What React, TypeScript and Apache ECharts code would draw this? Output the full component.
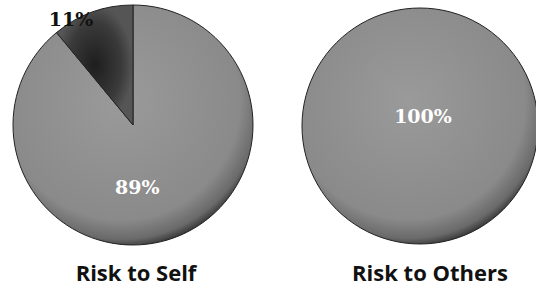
import React, { useEffect, useRef } from "react";
import * as echarts from "echarts";

const selfCategories = ["No", "Yes"];
const selfValues = [89, 11];
const othersCategories = ["No"];
const othersValues = [100];
const titles = ["Risk to Self", "Risk to Others"];

const greyFill = {
  type: "radial",
  x: 0.45,
  y: 0.4,
  r: 0.62,
  colorStops: [
    { offset: 0, color: "#9a9a9a" },
    { offset: 0.8, color: "#8a8a8a" },
    { offset: 0.93, color: "#6a6a6a" },
    { offset: 1, color: "#2e2e2e" },
  ],
};
const darkFill = {
  type: "radial",
  x: 0.5,
  y: 0.5,
  r: 0.5,
  colorStops: [
    { offset: 0, color: "#1e1e1e" },
    { offset: 0.7, color: "#3a3a3a" },
    { offset: 1, color: "#555555" },
  ],
};

export default function App() {
  const ref = useRef<HTMLDivElement>(null);
  useEffect(() => {
    if (!ref.current) return;
    const chart = echarts.init(ref.current, undefined, { renderer: "svg" });
    const labelFont = {
      fontFamily: "DejaVu Serif",
      fontWeight: "bold",
      fontSize: 19,
    };
    const titleStyle = {
      fontFamily: "Open Sans",
      fontWeight: "bold",
      fontSize: 22,
      lineHeight: 24,
      color: "#111",
    };
    chart.setOption({
      animation: false,
      backgroundColor: "#ffffff",
      title: [
        { text: titles[0], left: 136, top: 260, padding: 0, textAlign: "center", textStyle: titleStyle },
        { text: titles[1], left: 430, top: 260, padding: 0, textAlign: "center", textStyle: titleStyle },
      ],
      series: [
        {
          type: "pie",
          center: [133, 125],
          radius: 120,
          startAngle: 90,
          clockwise: true,
          avoidLabelOverlap: false,
          itemStyle: { borderColor: "#222", borderWidth: 1 },
          labelLine: { show: false, length: 0, length2: 0 },
          data: selfCategories.map((c, i) => ({
            name: c,
            value: selfValues[i],
            itemStyle: { color: i === 0 ? greyFill : darkFill },
            label:
              i === 0
                ? { show: true, position: "inside", color: "#fff", ...labelFont, formatter: "{d}%" }
                : { show: true, position: "outside", color: "#111", ...labelFont, formatter: "{d}%" },
          })),
          labelLayout: (p: any) =>
            p.dataIndex === 0 ? { dx: -17, dy: 3 } : { dx: 6, dy: 7 },
        },
        {
          type: "pie",
          center: [420, 126],
          radius: 118,
          startAngle: 90,
          avoidLabelOverlap: false,
          itemStyle: { borderColor: "#222", borderWidth: 1 },
          labelLine: { show: false },
          data: othersCategories.map((c, i) => ({
            name: c,
            value: othersValues[i],
            itemStyle: { color: greyFill },
            label: { show: true, position: "center", color: "#fff", ...labelFont, formatter: "{d}%" },
          })),
          labelLayout: { dx: 3, dy: -10 },
        },
      ],
    });
    return () => chart.dispose();
  }, []);
  return (
    <div
      ref={ref}
      style={{ position: "fixed", left: 0, top: 0, width: 536, height: 288 }}
    />
  );
}
